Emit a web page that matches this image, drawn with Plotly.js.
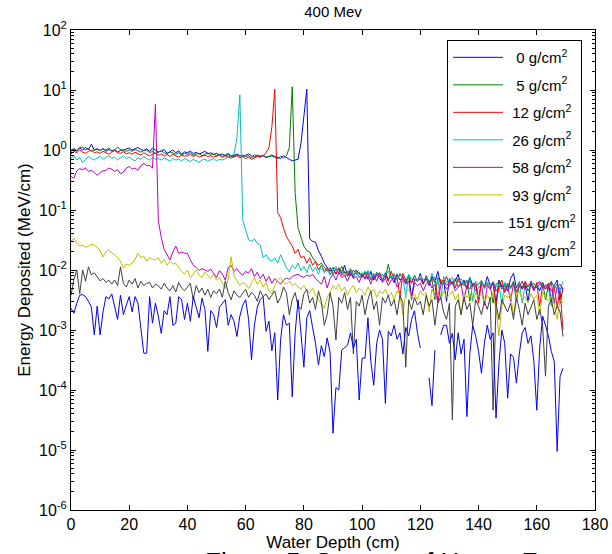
<!DOCTYPE html>
<html>
<head>
<meta charset="utf-8">
<script src="https://cdn.plot.ly/plotly-3.0.1.min.js"></script>
<style>html,body{margin:0;padding:0;background:#fff;}#chart{width:612px;height:554px;}</style>
</head>
<body>
<div id="chart"></div>
<script>
// Water depth (cm), 1 cm steps
const depth = [];
for (let i = 0; i <= 169; i++) depth.push(i);

const seriesNames = ["0 g/cm<sup>2</sup>", "5 g/cm<sup>2</sup>", "12 g/cm<sup>2</sup>", "26 g/cm<sup>2</sup>",
  "58 g/cm<sup>2</sup>", "93 g/cm<sup>2</sup>", "151 g/cm<sup>2</sup>", "243 g/cm<sup>2</sup>"];
const seriesColors = ["#0000ff", "#008000", "#ff0000", "#00bfbf", "#bf00bf", "#bfbf00", "#404040", "#0000ff"];

const yTickVals = [1e-6, 1e-5, 1e-4, 1e-3, 1e-2, 1e-1, 1e0, 1e1, 1e2];
const yTickText = ["10<sup>-6</sup>", "10<sup>-5</sup>", "10<sup>-4</sup>", "10<sup>-3</sup>", "10<sup>-2</sup>",
  "10<sup>-1</sup>", "10<sup>0</sup>", "10<sup>1</sup>", "10<sup>2</sup>"];
const xTickVals = [0, 20, 40, 60, 80, 100, 120, 140, 160, 180];

const s0 = [
0.95,1.05,0.98,1.08,1.0,1.1,1.02,1.25,1.0,1.05,
0.98,1.05,0.95,1.02,0.97,1.0,0.93,0.98,1.0,1.05,
1.08,1.0,1.06,1.1,1.02,0.98,1.05,0.95,1.08,1.0,
0.92,0.96,1.02,0.88,0.95,1.0,0.9,0.97,0.85,0.93,
0.9,0.96,0.87,0.92,0.85,0.9,0.95,0.86,0.9,0.84,
0.88,0.82,0.86,0.8,0.84,0.78,0.82,0.85,0.8,0.78,
0.82,0.86,0.8,0.76,0.82,0.78,0.8,0.75,0.78,0.82,
0.78,0.74,0.72,0.8,0.76,0.7,0.66,0.68,0.7,1.3,
3.4,10.3,0.033,0.03,0.029,0.021,0.017,0.013,0.011,0.0095,
0.011,0.0085,0.0105,0.009,0.012,0.008,0.0095,0.0075,0.01,0.0085,
0.0075,0.009,0.007,0.0095,0.0068,0.0085,0.0072,0.0065,0.009,0.007,
0.0078,0.0062,0.0085,0.0068,0.0075,0.006,0.0082,0.0035,0.007,0.0065,
0.0088,0.006,0.0072,0.0055,0.0078,0.0062,0.0095,0.0058,0.0068,0.003,
0.0072,0.0058,0.0065,0.0085,0.0055,0.0068,0.005,0.0075,0.0056,0.0062,
0.0032,0.0065,0.0052,0.0078,0.0055,0.006,0.0028,0.0068,0.0052,0.0058,
0.0045,0.0072,0.0088,0.005,0.0062,0.0048,0.0058,0.003,0.0065,0.005,
0.0056,0.0045,0.0062,0.0048,0.006,0.003,0.0055,0.0068,0.0028,0.005];

const s5 = [
1.0,1.05,0.95,1.1,1.12,1.0,1.05,0.95,1.0,1.02,
0.98,1.05,1.0,1.08,0.95,1.0,1.12,1.02,0.98,0.95,
1.0,0.95,1.02,0.97,0.92,0.98,1.0,0.9,0.95,0.88,
0.92,0.97,0.9,0.86,0.93,0.88,0.85,0.9,0.82,0.88,
0.85,0.9,0.82,0.86,0.88,0.8,0.84,0.9,0.82,0.86,
0.8,0.85,0.78,0.82,0.88,0.8,0.76,0.83,0.79,0.82,
0.78,0.8,0.74,0.84,0.78,0.75,0.82,0.76,0.78,0.8,
0.75,0.72,0.78,0.74,0.8,1.1,11.3,0.19,0.05,0.035,
0.025,0.021,0.02,0.016,0.014,0.012,0.013,0.011,0.0095,0.011,
0.0085,0.0105,0.009,0.0115,0.0088,0.0095,0.008,0.01,0.0085,0.0092,
0.0078,0.0095,0.0082,0.0088,0.007,0.0092,0.0078,0.0085,0.0072,0.0125,
0.0075,0.0082,0.0068,0.0088,0.0072,0.0065,0.008,0.0062,0.0078,0.0068,
0.0072,0.0058,0.0078,0.0065,0.007,0.0032,0.0075,0.0062,0.0068,0.0055,
0.0065,0.0058,0.0072,0.0052,0.0062,0.0055,0.0068,0.003,0.006,0.0052,
0.0058,0.0065,0.005,0.0062,0.0055,0.0028,0.0058,0.0062,0.0048,0.0055,
0.006,0.0052,0.0065,0.003,0.0058,0.0052,0.0062,0.0045,0.0055,0.006,
0.005,0.0058,0.0062,0.0032,0.0055,0.0065,0.005,0.0058,0.0048,0.0052];

const s12 = [
0.85,0.95,0.9,1.0,0.92,0.88,0.95,1.0,0.9,0.93,
0.88,0.95,0.9,0.85,0.92,0.98,0.9,0.88,0.94,0.86,
0.9,0.85,0.92,0.88,0.82,0.9,0.86,0.8,0.85,0.88,
0.82,0.86,0.8,0.84,0.78,0.85,0.8,0.76,0.82,0.79,
0.8,0.84,0.78,0.82,0.76,0.8,0.82,0.78,0.8,0.76,
0.78,0.82,0.75,0.8,0.77,0.73,0.78,0.8,0.74,0.78,
0.72,0.76,0.7,0.74,0.78,0.8,0.8,0.9,1.1,2.4,
10.3,0.09,0.075,0.05,0.036,0.03,0.025,0.019,0.022,0.016,
0.017,0.013,0.016,0.012,0.014,0.01,0.012,0.0095,0.011,0.0085,
0.01,0.0088,0.011,0.0082,0.0095,0.0078,0.0105,0.0085,0.0092,0.0075,
0.0088,0.0072,0.0095,0.0068,0.0085,0.0078,0.009,0.007,0.0082,0.0065,
0.0095,0.007,0.0078,0.0035,0.0088,0.0068,0.0075,0.006,0.0082,0.0065,
0.0072,0.0058,0.008,0.006,0.0068,0.0075,0.003,0.007,0.0062,0.0078,
0.0058,0.0065,0.005,0.0072,0.0056,0.0062,0.0048,0.0068,0.0055,0.006,
0.0028,0.0065,0.0052,0.0058,0.0048,0.0062,0.0025,0.0055,0.0068,0.0045,
0.0058,0.005,0.0062,0.0042,0.0055,0.0048,0.0065,0.0052,0.0058,0.0045,
0.0062,0.0025,0.0055,0.0048,0.0058,0.0044,0.0052,0.0024,0.0048,0.001];

const s26 = [
0.72,0.8,0.68,0.75,0.62,0.7,0.78,0.72,0.68,0.74,
0.78,0.7,0.75,0.8,0.72,0.76,0.68,0.74,0.8,0.72,
0.76,0.7,0.66,0.74,0.7,0.78,0.72,0.68,0.75,0.7,
0.72,0.68,0.74,0.7,0.65,0.72,0.68,0.7,0.66,0.72,
0.68,0.64,0.7,0.66,0.62,0.68,0.7,0.65,0.68,0.72,
0.66,0.7,0.68,0.72,0.75,0.8,0.85,1.6,8.3,0.068,
0.045,0.032,0.03,0.033,0.028,0.026,0.016,0.018,0.015,0.014,
0.016,0.013,0.018,0.014,0.011,0.0093,0.012,0.0105,0.013,0.0098,
0.0115,0.009,0.0125,0.0095,0.011,0.0085,0.012,0.009,0.0105,0.0082,
0.0098,0.0115,0.0085,0.01,0.0078,0.0092,0.0105,0.008,0.0095,0.0075,
0.009,0.0082,0.0098,0.0072,0.0088,0.0078,0.0092,0.007,0.0085,0.0095,
0.0072,0.0088,0.0068,0.0082,0.0075,0.0035,0.0085,0.007,0.0078,0.0065,
0.0082,0.0068,0.0075,0.006,0.0088,0.0065,0.0072,0.0032,0.0078,0.0062,
0.0068,0.0075,0.0056,0.0065,0.0072,0.0055,0.0062,0.0075,0.003,0.0065,
0.0058,0.0068,0.0048,0.0062,0.0055,0.0065,0.0052,0.0058,0.0028,0.0062,
0.0055,0.0048,0.006,0.0052,0.0065,0.0028,0.0058,0.0052,0.0062,0.0048,
0.0055,0.0062,0.0048,0.0058,0.005,0.0025,0.0055,0.0048,0.0045,0.0065];

const s58 = [
0.36,0.34,0.45,0.49,0.47,0.5,0.44,0.46,0.42,0.38,
0.42,0.45,0.46,0.5,0.48,0.44,0.47,0.4,0.43,0.5,
0.53,0.48,0.5,0.46,0.55,0.6,0.55,0.55,0.5,5.8,
0.066,0.035,0.022,0.018,0.0147,0.02,0.025,0.019,0.02,0.019,
0.019,0.0147,0.012,0.011,0.0098,0.0105,0.01,0.0095,0.0103,0.0088,
0.0075,0.0098,0.0085,0.0068,0.011,0.012,0.0095,0.0105,0.009,0.0082,
0.0095,0.0088,0.0105,0.0078,0.0092,0.0072,0.0085,0.0065,0.0078,0.006,
0.0072,0.0065,0.0058,0.0068,0.0074,0.007,0.0078,0.0082,0.0085,0.0078,
0.0075,0.0082,0.0078,0.0085,0.0072,0.0065,0.0058,0.0078,0.005,0.0072,
0.0085,0.0068,0.0092,0.0075,0.0082,0.0065,0.0088,0.0072,0.0078,0.0062,
0.0085,0.007,0.0078,0.0058,0.0082,0.0065,0.0088,0.0062,0.0072,0.0055,
0.0068,0.0075,0.0052,0.0062,0.0078,0.0058,0.0065,0.0032,0.0062,0.0055,
0.006,0.0045,0.0058,0.0065,0.005,0.0058,0.0028,0.0055,0.006,0.0048,
0.0055,0.0062,0.0045,0.0052,0.0058,0.003,0.0055,0.0048,0.006,0.0045,
0.005,0.0058,0.0026,0.0055,0.0048,0.0062,0.0045,0.0052,0.0058,0.0042,
0.0055,0.003,0.006,0.0045,0.0052,0.0065,0.0048,0.0055,0.0062,0.0045,
0.0058,0.0065,0.005,0.0055,0.0048,0.0062,0.0028,0.0052,0.0058,0.0045];

const s93 = [
0.03,0.034,0.028,0.025,0.026,0.024,0.025,0.027,0.026,0.024,
0.021,0.0166,0.02,0.022,0.019,0.018,0.016,0.014,0.0107,0.0125,
0.012,0.013,0.015,0.019,0.016,0.017,0.014,0.016,0.015,0.0147,
0.016,0.013,0.015,0.012,0.014,0.0125,0.013,0.011,0.0095,0.0085,
0.01,0.0074,0.0088,0.01,0.0082,0.0075,0.0092,0.008,0.0072,0.0085,
0.0068,0.0075,0.006,0.0049,0.007,0.0166,0.008,0.0068,0.0055,0.0062,
0.0058,0.0049,0.0062,0.0075,0.0058,0.0068,0.0052,0.0062,0.0045,0.004,
0.0055,0.0068,0.0075,0.0062,0.0058,0.0065,0.0055,0.006,0.0052,0.0048,
0.0055,0.0045,0.0042,0.005,0.0038,0.0032,0.0028,0.0023,0.0035,0.0042,
0.0055,0.0048,0.0058,0.0045,0.0052,0.0038,0.0048,0.0055,0.0042,0.005,
0.0045,0.0038,0.0052,0.0042,0.0048,0.0035,0.0045,0.004,0.0048,0.0036,
0.0042,0.0032,0.0045,0.0038,0.0018,0.0042,0.0048,0.0035,0.004,0.0032,
0.0045,0.0038,0.0042,0.002,0.0048,0.0036,0.004,0.0032,0.0045,0.0035,
0.0038,0.0045,0.0032,0.004,0.0018,0.0042,0.0035,0.0038,0.003,0.0042,
0.0035,0.004,0.0028,0.0038,0.0032,0.0042,0.0022,0.0008,0.0025,0.0038,
0.0035,0.004,0.0017,0.0038,0.0045,0.0032,0.0036,0.0028,0.004,0.0033,
0.0038,0.0018,0.0042,0.0035,0.003,0.0038,0.0026,0.0015,0.0032,0.0028];

const s151 = [
0.0038,0.007,0.01,0.004,0.01,0.0065,0.0113,0.0083,0.009,0.0075,
0.0066,0.0072,0.0062,0.0068,0.0058,0.0068,0.0055,0.0113,0.006,0.0052,
0.0068,0.0058,0.0072,0.005,0.0065,0.0055,0.006,0.0062,0.005,0.0058,
0.0055,0.0048,0.006,0.005,0.0045,0.0055,0.0043,0.0062,0.005,0.0045,
0.0052,0.006,0.0032,0.0055,0.0042,0.005,0.0038,0.0048,0.0035,0.0045,
0.004,0.0048,0.0035,0.0066,0.0042,0.0032,0.0045,0.0038,0.0035,0.0042,
0.0048,0.0035,0.0042,0.0038,0.003,0.0045,0.0036,0.004,0.0032,0.0038,
0.0045,0.0028,0.0035,0.0052,0.0042,0.0018,0.0032,0.0042,0.0025,0.0022,
0.004,0.0048,0.0028,0.0035,0.0022,0.0045,0.003,0.0012,0.0018,0.0042,
0.0025,0.00068,0.0035,0.0028,0.0042,0.0022,0.0035,0.0004,0.003,0.0025,
0.0038,0.0018,0.0032,0.0045,0.0022,0.003,0.0012,0.0035,0.0028,0.0038,
0.0025,0.0032,0.0018,0.0038,0.0028,0.00024,0.0032,0.0022,0.0035,0.0026,
0.003,0.0018,0.0038,0.0025,0.0032,0.0012,0.0028,0.0035,0.002,0.0015,
0.0028,0.000032,0.0025,0.0032,0.0018,0.0035,0.0022,0.0028,0.0012,0.0032,
0.0025,0.0018,0.003,0.0022,0.0035,0.000046,0.0028,0.0015,0.0032,0.0025,
0.002,0.0028,0.0015,0.0035,0.0022,0.0012,0.0028,0.0018,0.0025,0.0032,
0.0015,0.0022,0.0012,0.00017,0.0025,0.0032,0.0018,0.0025,0.002,0.00078];

const s243 = [
0.0023,0.0019,0.0028,0.0038,0.0039,0.0036,0.003,0.0024,0.00083,0.0025,
0.00083,0.002,0.0036,0.0033,0.004,0.0025,0.0015,0.0038,0.0018,0.0026,
0.0036,0.002,0.0036,0.0028,0.0011,0.00041,0.00041,0.0036,0.0013,0.0028,
0.0017,0.00088,0.0021,0.0018,0.0036,0.0012,0.0013,0.0036,0.0032,0.0015,
0.0028,0.0014,0.0036,0.0025,0.0016,0.0034,0.0022,0.00044,0.0021,0.0018,
0.0011,0.0024,0.0028,0.0032,0.0012,0.0018,0.0014,0.00078,0.0017,0.0026,
0.0032,0.0015,0.00032,0.0012,0.0024,0.0032,0.0036,0.00095,0.0014,0.00045,
0.0009,0.000068,0.00068,0.0018,0.0012,0.0013,0.000077,0.0009,0.0032,0.00075,
0.00024,0.0016,0.0021,0.0011,0.0006,0.00026,0.00055,0.00036,0.00074,0.00042,
0.000019,0.00011,0.0001,0.00046,0.0005,0.00056,0.0009,0.0005,0.0007,0.000068,
0.00034,0.00034,0.0016,0.0003,0.00012,0.0006,0.001,0.0007,0.00006,0.00095,
0.0008,0.0012,0.0007,0.0009,0.0004,0.0011,0.0008,0.0015,0.0021,0.0009,
0.0005,null,null,0.00016,0.000055,0.00046,null,0.00083,0.0012,0.0012,
0.0006,0.00088,0.00032,0.0009,0.0004,0.0007,0.000036,0.0004,0.0012,0.0008,
0.00044,0.00019,0.0006,0.0012,0.0007,0.0009,0.000034,0.00028,0.001,0.0006,
0.000073,0.0004,0.00035,0.00013,0.0004,0.0009,0.0011,0.0006,0.0008,0.0003,
0.000046,0.0005,0.0017,0.0012,0.0008,0.00044,0.0003,0.0000095,0.00017,0.00023];

const allSeries = [s0, s5, s12, s26, s58, s93, s151, s243];
// spacing so the legend labels sit centred like the original
const labelPad = ["\u2008\u2008", "\u2008\u2008", "\u2008", "\u2008", "\u2008", "\u2008", "", ""];

const traces = allSeries.map((ys, i) => ({
  type: "scatter",
  mode: "lines",
  x: depth,
  y: ys,
  name: labelPad[i] + seriesNames[i],
  legendgroup: "g" + i,
  line: {color: seriesColors[i], width: 1},
  connectgaps: false,
  hoverinfo: "skip"
}));

// minor tick positions for the log axis (2..9 in each decade)
const minorVals = [];
for (let e = -6; e < 2; e++) for (let m = 2; m <= 9; m++) minorVals.push(m * Math.pow(10, e));

const fontFam = "Liberation Sans, Arial, Helvetica, sans-serif";
const layout = {
  width: 612, height: 554,
  margin: {l: 71, r: 17, t: 30, b: 44},
  paper_bgcolor: "#ffffff", plot_bgcolor: "#ffffff",
  font: {family: fontFam, color: "#000000", size: 15},
  showlegend: true,
  title: {text: "400 Mev", font: {size: 15, family: fontFam}, x: 0.5, xref: "paper", y: 0.978, yref: "container", yanchor: "middle"},
  xaxis: {
    range: [0, 180], tickmode: "array", tickvals: xTickVals,
    ticks: "inside", ticklen: 5, tickwidth: 1, tickcolor: "#000",
    showline: true, linecolor: "#000", linewidth: 1, mirror: "ticks",
    showgrid: false, zeroline: false,
    tickfont: {size: 16},
    title: {text: "Water Depth (cm)", font: {size: 17}, standoff: 2}
  },
  yaxis: {
    type: "log", range: [-6, 2], tickmode: "array", tickvals: yTickVals, ticktext: yTickText,
    ticks: "inside", ticklen: 5, tickwidth: 1, tickcolor: "#000",
    minor: {tickmode: "array", tickvals: minorVals, ticks: "inside", ticklen: 3, tickcolor: "#000", showgrid: false},
    showline: true, linecolor: "#000", linewidth: 1, mirror: "ticks",
    showgrid: false, zeroline: false,
    tickfont: {size: 16},
    title: {text: "Energy Deposited (MeV/cm)", font: {size: 17}, standoff: 4}
  },
  legend: {
    x: 0.7176, y: 0.979, xanchor: "left", yanchor: "top",
    bgcolor: "#ffffff", bordercolor: "#000000", borderwidth: 1,
    font: {size: 15, family: fontFam},
    tracegroupgap: 5, itemwidth: 50, traceorder: "grouped"
  },
  annotations: [{
    text: "Figure 5: Spectra of Heavy Fragments",
    xref: "paper", yref: "paper", x: (203 - 71) / 524, y: (510 - 545) / 480,
    xanchor: "left", yanchor: "top", showarrow: false,
    font: {size: 26, family: fontFam, color: "#000"}
  }]
};

Plotly.newPlot("chart", traces, layout, {displayModeBar: false, staticPlot: true});
</script>
</body>
</html>
